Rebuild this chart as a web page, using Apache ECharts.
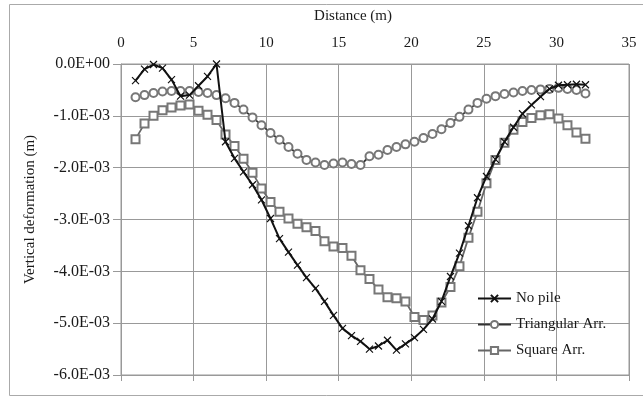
<!DOCTYPE html>
<html>
<head>
<meta charset="utf-8">
<script src="https://cdn.jsdelivr.net/npm/echarts@6/dist/echarts.min.js"></script>
<style>
  html, body { margin: 0; padding: 0; background: #fff; }
  #chart { width: 643px; height: 399px; }
</style>
</head>
<body>
<div id="chart"></div>
<script>
// distance along the section (m)
const distance = [1.00, 1.62, 2.24, 2.86, 3.48, 4.10, 4.72, 5.34, 5.96, 6.58, 7.20, 7.82, 8.44, 9.06, 9.68,
  10.30, 10.92, 11.54, 12.16, 12.78, 13.40, 14.02, 14.64, 15.26, 15.88, 16.50, 17.12, 17.74, 18.36, 18.98,
  19.60, 20.22, 20.84, 21.46, 22.08, 22.70, 23.32, 23.94, 24.56, 25.18, 25.80, 26.42, 27.04, 27.66, 28.28,
  28.90, 29.52, 30.14, 30.76, 31.38, 32.00];

// vertical deformation, in units of 1E-03 m
const noPile = [-0.32, -0.10, -0.01, -0.08, -0.30, -0.62, -0.60, -0.42, -0.24, 0.00, -1.50, -1.82, -2.08, -2.33, -2.62,
  -2.98, -3.37, -3.63, -3.88, -4.12, -4.33, -4.58, -4.85, -5.10, -5.24, -5.35, -5.50, -5.44, -5.33, -5.52,
  -5.40, -5.28, -5.12, -4.92, -4.58, -4.10, -3.65, -3.12, -2.58, -2.17, -1.84, -1.50, -1.22, -0.96, -0.79,
  -0.63, -0.48, -0.41, -0.40, -0.39, -0.40];
const triangular = [-0.64, -0.60, -0.56, -0.53, -0.52, -0.52, -0.52, -0.54, -0.56, -0.60, -0.66, -0.75, -0.88, -1.03, -1.18,
  -1.33, -1.46, -1.60, -1.73, -1.85, -1.90, -1.95, -1.92, -1.90, -1.93, -1.95, -1.78, -1.75, -1.66, -1.60,
  -1.55, -1.50, -1.43, -1.35, -1.26, -1.14, -1.02, -0.88, -0.75, -0.67, -0.62, -0.58, -0.55, -0.52, -0.50,
  -0.49, -0.48, -0.46, -0.48, -0.50, -0.57];
const square = [-1.45, -1.15, -1.00, -0.89, -0.84, -0.80, -0.78, -0.90, -0.98, -1.08, -1.36, -1.58, -1.83, -2.10, -2.40,
  -2.66, -2.85, -2.98, -3.08, -3.15, -3.22, -3.42, -3.52, -3.55, -3.70, -3.98, -4.15, -4.35, -4.50, -4.52,
  -4.58, -4.88, -4.94, -4.85, -4.60, -4.30, -3.90, -3.35, -2.85, -2.30, -1.85, -1.52, -1.27, -1.12, -1.04,
  -0.99, -0.97, -1.05, -1.18, -1.32, -1.44];

const xTicks = [0, 5, 10, 15, 20, 25, 30, 35];
const yTicks = [0, -1, -2, -3, -4, -5, -6];

const pairs = (ys) => distance.map((x, i) => [x, ys[i] * 1e-3]);
const fmtY = (v) => {
  const m = Math.round(v * 1000);
  return m === 0 ? '0.0E+00' : m.toFixed(1) + 'E-03';
};

const serif = 'Liberation Serif';
const ink = '#1a1a1a';
const gridColor = '#999';
const crossPath = 'path://M0,0L10,10M10,0L0,10';

const chart = echarts.init(document.getElementById('chart'));
chart.setOption({
  animation: false,
  backgroundColor: '#fff',
  textStyle: { fontFamily: serif },
  graphic: [{
    type: 'rect',
    shape: { x: 9.5, y: 4.5, width: 700, height: 391 },
    style: { fill: 'none', stroke: '#aaa', lineWidth: 1 },
    silent: true
  }],
  grid: {
    left: 121, right: 14, top: 64, bottom: 24,
    show: true, borderColor: gridColor, borderWidth: 1
  },
  legend: {
    orient: 'vertical',
    left: 477, top: 291, padding: 0,
    itemWidth: 33, itemHeight: 9, itemGap: 11,
    textStyle: { fontFamily: serif, fontSize: 15, color: ink },
    data: ['No pile', 'Triangular Arr.', 'Square Arr.']
  },
  xAxis: [{
    type: 'value', position: 'top',
    min: xTicks[0], max: xTicks[xTicks.length - 1], interval: 5,
    name: 'Distance (m)', nameLocation: 'middle', nameGap: 40,
    nameTextStyle: { fontFamily: serif, fontSize: 15, color: ink, padding: [0, 44, 0, 0] },
    axisLine: { show: false }, axisTick: { show: false },
    axisLabel: { fontFamily: serif, fontSize: 15, color: ink, margin: 13 },
    splitLine: { lineStyle: { color: gridColor, width: 1 } }
  }, {
    type: 'value', position: 'bottom',
    min: xTicks[0], max: xTicks[xTicks.length - 1], interval: 5,
    axisLine: { show: false },
    axisTick: { show: true, length: 6, lineStyle: { color: gridColor } },
    axisLabel: { show: false }, splitLine: { show: false }
  }],
  yAxis: {
    type: 'value',
    min: yTicks[yTicks.length - 1] * 1e-3, max: yTicks[0] * 1e-3, interval: 1e-3,
    name: 'Vertical deformation (m)', nameLocation: 'middle', nameGap: 83, nameRotate: 90,
    nameTextStyle: { fontFamily: serif, fontSize: 15, color: ink, padding: [0, 0, 0, 20] },
    axisLine: { show: true, lineStyle: { color: gridColor } },
    axisTick: { show: true, length: 8, lineStyle: { color: gridColor } },
    axisLabel: { fontFamily: serif, fontSize: 16, color: ink, margin: 11, formatter: fmtY },
    splitLine: { lineStyle: { color: gridColor, width: 1 } }
  },
  series: [{
    name: 'No pile', type: 'line', xAxisIndex: 0,
    data: pairs(noPile),
    symbol: crossPath, symbolSize: 7,
    lineStyle: { color: '#111', width: 2 },
    itemStyle: { color: '#111', borderColor: '#111', borderWidth: 1.2 },
    z: 4
  }, {
    name: 'Triangular Arr.', type: 'line', xAxisIndex: 0,
    data: pairs(triangular),
    symbol: 'emptyCircle', symbolSize: 8,
    lineStyle: { color: '#333', width: 1.8 },
    itemStyle: { color: '#777', borderColor: '#777', borderWidth: 1.2 },
    z: 3
  }, {
    name: 'Square Arr.', type: 'line', xAxisIndex: 0,
    data: pairs(square),
    symbol: 'emptyRect', symbolSize: 8,
    lineStyle: { color: '#666', width: 1.8 },
    itemStyle: { color: '#777', borderColor: '#777', borderWidth: 1.2 },
    z: 2
  }]
});
</script>
</body>
</html>
